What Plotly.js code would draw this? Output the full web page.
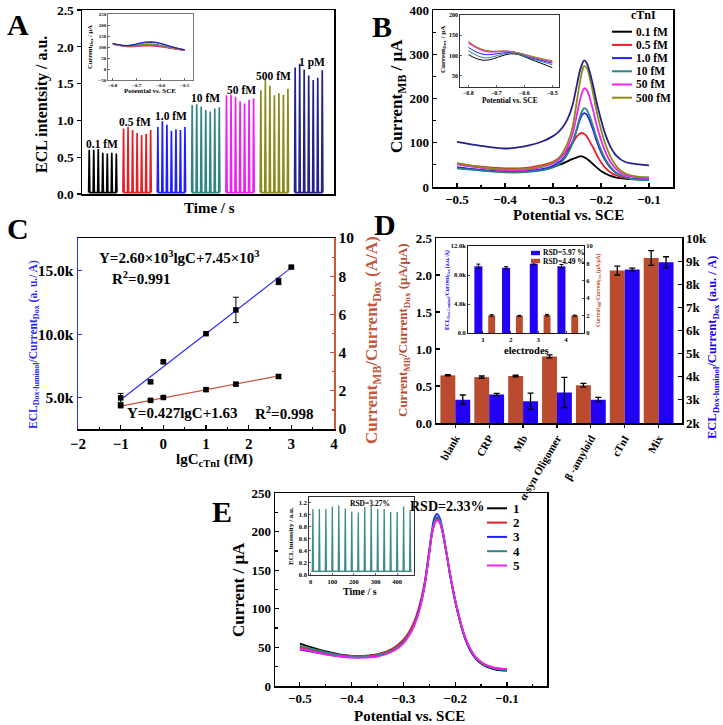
<!DOCTYPE html>
<html><head><meta charset="utf-8">
<script src="https://cdn.plot.ly/plotly-3.0.1.min.js"></script>
<style>html,body{margin:0;padding:0;background:#fff}#chart{width:723px;height:725px}</style>
</head><body><div id="chart"></div>
<script>
// ================= DATA =================
// Panel A: ECL spikes per concentration
const groupLabelsA = ['0.1 fM','0.5 fM','1.0 fM','10 fM','50 fM','500 fM','1 pM'];
const spikePeaksA = [
  [0.60,0.60,0.61,0.56,0.55,0.56,0.55],
  [0.89,0.91,0.87,0.83,0.80,0.82,0.87],
  [0.91,0.99,0.94,0.86,0.88,0.87,0.91],
  [1.21,1.22,1.19,1.14,1.12,1.16,1.18],
  [1.34,1.35,1.32,1.26,1.23,1.28,1.30],
  [1.41,1.55,1.47,1.34,1.37,1.35,1.43],
  [1.72,1.77,1.69,1.61,1.55,1.58,1.68]];
const groupStartA = [0,76,152,228,304,380,456];
const spikeStepA = 10;
const baseA = 0.02;
// Panel A inset (Current_Dox vs potential)
const potAi = [-0.8,-0.77,-0.74,-0.71,-0.68,-0.65,-0.62,-0.59,-0.56,-0.53,-0.5];
const curAi = [
  [115,108,103,104,108,110,108,102,96,90,86],
  [113,106,101,101,104,105,103,99,94,89,84],
  [116,110,107,112,120,124,122,114,104,95,88],
  [114,108,104,106,111,114,112,106,98,91,86],
  [112,106,102,103,106,108,106,101,95,89,85],
  [113,107,103,104,108,111,109,103,96,90,86],
  [115,109,106,110,117,121,119,112,102,94,87]];
// Panel B: DPV of MB
const namesB = ['0.1 fM','0.5 fM','1.0 fM','10 fM','50 fM','500 fM','1 pM'];
const potB = [-0.5,-0.45,-0.4,-0.35,-0.32,-0.3,-0.29,-0.28,-0.27,-0.26,-0.25,-0.245,-0.24,-0.235,-0.23,-0.225,-0.22,-0.215,-0.21,-0.2,-0.19,-0.18,-0.17,-0.16,-0.15,-0.14,-0.12,-0.1];
const curB = [
  [43,38,35,36,40,45,49,53,58,63,67,69,69,67,64,60,55,50,45,36,30,25,22,20,19,18,17,17],
  [53,46,42,44,50,57,63,71,83,98,115,120,122,120,115,106,96,86,75,56,42,33,27,23,21,19,18,18],
  [45,38,34,36,41,48,54,63,77,99,131,149,162,167,164,154,140,124,107,79,58,43,33,27,22,19,18,17],
  [42,37,33,34,38,44,50,59,74,97,134,154,170,178,175,164,149,132,114,84,61,45,34,27,22,19,17,16],
  [51,43,38,40,46,53,60,71,89,117,165,191,212,223,220,207,188,167,144,106,77,56,42,33,27,24,21,20],
  [54,45,40,42,48,56,64,77,98,132,196,230,258,273,270,254,230,204,176,130,94,68,50,38,31,27,23,22],
  [102,93,87,94,104,115,123,135,153,182,232,258,276,286,281,266,245,222,196,152,116,90,73,63,57,54,51,49]];
// Panel B inset
const potBi = [-0.8,-0.77,-0.74,-0.71,-0.68,-0.65,-0.62,-0.59,-0.56,-0.53,-0.5];
const curBi = [
  [102,92,88,92,99,104,102,94,86,78,70],
  [133,120,112,110,111,110,106,100,94,89,84],
  [120,108,102,103,106,107,104,97,91,86,81],
  [112,100,94,97,103,106,103,96,89,83,77],
  [130,118,110,108,110,110,106,100,94,89,85],
  [135,121,113,110,110,109,106,101,96,91,87]];
// Panel C: calibration
const lgC = [-1,-0.3,0,1,1.7,2.7,3];
const eclRatio = [5000,6260,7840,10050,11920,14160,15290];
const eclErr = [350,100,100,80,1000,250,80];
const lgCmb = [-1,-0.3,0,1,1.7,2.7];
const mbRatio = [1.22,1.50,1.65,2.06,2.35,2.75];
const mbErr = [0.06,0.04,0.04,0.08,0.08,0.10];
const fitEclX = [-1,3], fitEclY = [4850,15250];
const fitMbX = [-1,2.7], fitMbY = [1.20,2.78];
// Panel D: selectivity
const catsD = ['blank','CRP','Mb','α-syn Oligomer','β -amyloid','cTnI','Mix'];
const mbD = [0.644,0.62,0.635,0.90,0.51,2.06,2.23];
const mbDErr = [0.008,0.015,0.01,0.02,0.025,0.06,0.10];
const eclD = [3010,3230,2940,3320,3010,8640,8950];
const eclDErr = [200,50,350,650,100,60,240];
// Panel D inset: reproducibility
const electrodes = [1,2,3,4];
const eclElec = [9200,9000,9550,9200];
const eclElecErr = [300,150,120,250];
const mbElec = [2.02,1.98,2.05,2.0];
const mbElecErr = [0.08,0.05,0.09,0.06];
const rsdLabelsD = ['RSD=5.97 %','RSD=4.49 %'];
// Panel E: stability DPV
const namesE = ['1','2','3','4','5'];
const potE = [-0.5,-0.45,-0.4,-0.35,-0.32,-0.3,-0.29,-0.28,-0.27,-0.26,-0.25,-0.245,-0.24,-0.235,-0.23,-0.225,-0.22,-0.215,-0.21,-0.2,-0.19,-0.18,-0.17,-0.16,-0.15,-0.14,-0.12,-0.1];
const curE = [
  [55,45,39,41,48,58,66,78,97,126,172,196,211,218,214,202,184,165,144,110,82,60,45,35,29,25,21,20],
  [50,43,39,41,49,60,69,82,102,131,175,197,210,215,212,201,184,166,146,112,84,62,47,37,31,27,23,22],
  [47,41,37,39,46,57,66,78,98,128,176,201,218,223,218,205,186,166,145,110,82,60,45,36,30,26,22,21],
  [52,44,38,40,47,57,66,78,97,127,173,198,213,219,215,203,185,166,145,111,83,61,46,36,30,26,22,21],
  [48,41,37,38,45,55,64,77,96,126,172,196,210,215,212,201,184,166,146,112,84,62,47,37,31,27,23,22]];
// Panel E inset: ECL stability
const timesEi = [10,40,70,100,130,160,190,220,250,280,310,340,370,400,430,460];
const peaksEi = [1.09,1.09,1.09,1.13,1.15,1.10,1.05,1.03,1.12,1.14,1.09,1.09,1.04,1.04,1.13,1.07];
const baseSpanEi = [0,470];
const baseEi = 0.05;

// ================= STYLE / HELPERS =================
const W=723,H=725;
const F='Liberation Serif, Times New Roman, serif';
const colsA=['#000000','#e41f26','#2020ff','#2e8583','#f020f0','#8b8b1c','#22228a'];
const colsB=['#000000','#e41f26','#2020ff','#2e8583','#f020f0','#8b8b1c','#22228a'];
const colsE=['#000000','#e41f26','#2020ff','#2e8583','#f020f0'];
const BROWN='#bb4b2f', BLUEBAR='#2200f5', CBLUE='#2a2aff', CBROWN='#c5583c';
const px=x=>x/W, py=y=>1-y/H;
const domX=(a,b)=>[a/W,b/W], domY=(t,b)=>[1-b/H,1-t/H];
function tf(size,color){return {family:F,size:size,color:color||'#000',weight:'bold'};}
function ax(o){return Object.assign({showline:true,linecolor:'#000',linewidth:1.5,mirror:true,ticks:'inside',ticklen:4,tickwidth:1.2,tickcolor:'#000',showgrid:false,zeroline:false,tickfont:tf(13),fixedrange:true,layer:'above traces'},o);}
function txt(text,x,y,size,o){return Object.assign({text:text,x:px(x),y:py(y),xref:'paper',yref:'paper',showarrow:false,xanchor:'center',yanchor:'middle',font:tf(size)},o||{});}
function spikes(times,peaks,base,hw){const xs=[],ys=[];times.forEach((t,i)=>{xs.push(t-hw,t,t+hw);ys.push(base,peaks[i],base);});return {xs,ys};}

const traces=[], ann=[], shapes=[];

// ---- Panel A
groupStartA.forEach((g,gi)=>{
  const times=spikePeaksA[gi].map((_,i)=>g+i*spikeStepA);
  const s=spikes(times,spikePeaksA[gi],baseA,1.3);
  traces.push({x:s.xs,y:s.ys,xaxis:'x',yaxis:'y',mode:'lines',line:{color:colsA[gi],width:1.7},hoverinfo:'skip'});
});
const labPosA=[[102,144],[135,122],[171,116],[205,98],[241,90],[273,76],[312,63]];
groupLabelsA.forEach((l,i)=>ann.push(txt(l,labPosA[i][0],labPosA[i][1],11.5)));
curAi.forEach((c,i)=>traces.push({x:potAi,y:c,xaxis:'x2',yaxis:'y2',mode:'lines',line:{color:colsA[i],width:1,shape:'spline'},hoverinfo:'skip'}));

// ---- Panel B
curB.forEach((c,i)=>traces.push({x:potB,y:c,xaxis:'x3',yaxis:'y3',mode:'lines',line:{color:colsB[i],width:1.8,shape:'spline'},hoverinfo:'skip'}));
curBi.forEach((c,i)=>traces.push({x:potBi,y:c,xaxis:'x4',yaxis:'y4',mode:'lines',line:{color:colsB[i],width:1,shape:'spline'},hoverinfo:'skip'}));
namesB.slice(0,6).forEach((n,i)=>{const y=31.7+i*13.2;
  shapes.push({type:'line',xref:'paper',yref:'paper',x0:px(612),x1:px(632),y0:py(y),y1:py(y),line:{color:colsB[i],width:2}});
  ann.push(txt(n,634,y,11.5,{xanchor:'left'}));});

// ---- Panel C
traces.push({x:fitEclX,y:fitEclY,xaxis:'x5',yaxis:'y5',mode:'lines',line:{color:CBLUE,width:1.2},hoverinfo:'skip'});
traces.push({x:fitMbX,y:fitMbY,xaxis:'x5',yaxis:'y6',mode:'lines',line:{color:CBROWN,width:1.2},hoverinfo:'skip'});
traces.push({x:lgC,y:eclRatio,xaxis:'x5',yaxis:'y5',mode:'markers',marker:{symbol:'square',size:5.5,color:'#000'},error_y:{type:'data',array:eclErr,color:'#000',thickness:1,width:3},hoverinfo:'skip'});
traces.push({x:lgCmb,y:mbRatio,xaxis:'x5',yaxis:'y6',mode:'markers',marker:{symbol:'square',size:5.5,color:'#000'},error_y:{type:'data',array:mbErr,color:'#000',thickness:1,width:3},hoverinfo:'skip'});

// ---- Panel D
const idxD=catsD.map((_,i)=>i);
traces.push({type:'bar',x:idxD,y:mbD,xaxis:'x6',yaxis:'y7',width:0.44,offset:-0.44,marker:{color:BROWN,line:{width:0}},error_y:{type:'data',array:mbDErr,color:'#000',thickness:1.3,width:3},hoverinfo:'skip'});
traces.push({type:'bar',x:idxD,y:eclD,xaxis:'x6',yaxis:'y8',width:0.44,offset:0,marker:{color:BLUEBAR,line:{width:0}},error_y:{type:'data',array:eclDErr,color:'#000',thickness:1.3,width:3},hoverinfo:'skip'});
traces.push({type:'bar',x:electrodes,y:eclElec,xaxis:'x7',yaxis:'y9',width:0.29,offset:-0.31,marker:{color:BLUEBAR,line:{width:0}},error_y:{type:'data',array:eclElecErr,color:'#000',thickness:1,width:2},hoverinfo:'skip'});
traces.push({type:'bar',x:electrodes,y:mbElec,xaxis:'x7',yaxis:'y10',width:0.25,offset:0.19,marker:{color:BROWN,line:{width:0}},error_y:{type:'data',array:mbElecErr,color:'#000',thickness:1,width:2},hoverinfo:'skip'});
[BLUEBAR,BROWN].forEach((c,i)=>{const y=253+i*8;
  shapes.push({type:'rect',xref:'paper',yref:'paper',x0:px(531),x1:px(540),y0:py(y+2.2),y1:py(y-2.2),fillcolor:c,line:{width:0}});
  ann.push(txt(rsdLabelsD[i],541,y,7.5,{xanchor:'left'}));});

// ---- Panel E
curE.forEach((c,i)=>traces.push({x:potE,y:c,xaxis:'x8',yaxis:'y11',mode:'lines',line:{color:colsE[i],width:1.8,shape:'spline'},hoverinfo:'skip'}));
traces.push({x:baseSpanEi,y:[baseEi,baseEi],xaxis:'x9',yaxis:'y12',mode:'lines',line:{color:'#3a8c88',width:1},hoverinfo:'skip'});
const sE=spikes(timesEi,peaksEi,baseEi,2.5);
traces.push({x:sE.xs,y:sE.ys,xaxis:'x9',yaxis:'y12',mode:'lines',line:{color:'#3a8c88',width:1.3},hoverinfo:'skip'});
namesE.forEach((n,i)=>{const y=508.3+i*14.3;
  shapes.push({type:'line',xref:'paper',yref:'paper',x0:px(487),x1:px(507),y0:py(y),y1:py(y),line:{color:colsE[i],width:2}});
  ann.push(txt(n,511,y,13,{xanchor:'left'}));});

// ---- Text
ann.push(
  txt('A',18,24,30), txt('B',382,27,30), txt('C',18,228,30), txt('D',385,224,30), txt('E',222,512,30),
  txt('ECL intentsity / a.u.',42,105,16,{textangle:-90}),
  txt('Time / s',209,208,15),
  txt('Current<sub>Dox</sub> / μA',90,47,6.5,{textangle:-90}),
  txt('Potential vs. SCE',150,90.5,7),
  txt('Current<sub>MB</sub> / μA',398,96,17,{textangle:-90}),
  txt('Potential vs. SCE',568,214.5,15),
  txt('cTnI',643,15,12),
  txt('Current<sub>Dox</sub> / μA',443,50,7,{textangle:-90}),
  txt('Potential vs. SCE',510,100,7.5),
  txt('Y=2.60×10<sup>3</sup>lgC+7.45×10<sup>3</sup>',97,257,15,{xanchor:'left'}),
  txt('R<sup>2</sup>=0.991',110,278,15,{xanchor:'left'}),
  txt('Y=0.427lgC+1.63',125,413,15,{xanchor:'left'}),
  txt('R<sup>2</sup>=0.998',253,413,15,{xanchor:'left'}),
  txt('ECL<sub>Dox-luminol</sub>/Current<sub>Dox</sub> (a. u./ A)',34,345,11.5,{textangle:-90,font:tf(11.5,CBLUE)}),
  txt('Current<sub>MB</sub>/Current<sub>Dox</sub> (A/A)',373,340,17,{textangle:-90,font:tf(17,CBROWN)}),
  txt('lgC<sub>cTnI</sub> (fM)',214,460,15),
  txt('Current<sub>MB</sub>/Current<sub>Dox</sub> (μA/μA)',403,330,13,{textangle:-90,font:tf(13,BROWN)}),
  txt('ECL<sub>Dox-luminol</sub>/Current<sub>Dox</sub> (a.u. / A)',713,348,12.5,{textangle:-90,font:tf(12.5,BLUEBAR)}),
  txt('ECL<sub>Dox-Luminol</sub>/Current<sub>Dox</sub> (a.u./A)',447,290,5.5,{textangle:-90,font:tf(5.5,BLUEBAR)}),
  txt('Current<sub>MB</sub>/Current<sub>Dox</sub> (μA/μA)',598,290,5.5,{textangle:-90,font:tf(5.5,BROWN)}),
  txt('electrodes',526,350,10.5),
  txt('RSD=2.33%',447,506,14),
  txt('Current / μA',238,590,17,{textangle:-90}),
  txt('Potential vs. SCE',409,716,15),
  txt('RSD=3.27%',370,503,7.5),
  txt('ECL intensity / a.u.',291,536,7,{textangle:-90}),
  txt('Time / s',360,591,10)
);

// ================= LAYOUT =================
const layout={width:W,height:H,margin:{l:0,r:0,t:0,b:0},paper_bgcolor:'#fff',plot_bgcolor:'rgba(0,0,0,0)',showlegend:false,barmode:'overlay',font:{family:F},
  // A
  xaxis:ax({domain:domX(82,334),range:[-16,542],anchor:'y',showticklabels:false,ticks:''}),
  yaxis:ax({domain:domY(10,194),range:[0,2.5],anchor:'x',dtick:0.5,tickformat:'.1f',ticks:'outside',tickfont:tf(13.5)}),
  xaxis2:ax({domain:domX(108,193),range:[-0.82,-0.465],anchor:'y2',tickvals:[-0.8,-0.7,-0.6,-0.5],tickformat:'.1f',tickfont:tf(5),ticklen:2,linewidth:0.8,linecolor:'#555',tickwidth:0.6}),
  yaxis2:ax({domain:domY(14,80),range:[-50,250],anchor:'x2',dtick:50,tickfont:tf(5),ticklen:2,linewidth:0.8,linecolor:'#555',tickwidth:0.6}),
  // B
  xaxis3:ax({domain:domX(433,673),range:[-0.55,-0.05],anchor:'y3',tick0:-0.5,dtick:0.1,tickformat:'.1f',minor:{ticks:'inside',ticklen:2.5,dtick:0.05,tick0:-0.5,tickcolor:'#000'}}),
  yaxis3:ax({domain:domY(10,187),range:[0,400],anchor:'x3',dtick:100,minor:{ticks:'inside',ticklen:2.5,dtick:50,tickcolor:'#000'}}),
  xaxis4:ax({domain:domX(460,559),range:[-0.83,-0.476],anchor:'y4',tickvals:[-0.8,-0.7,-0.6,-0.5],tickformat:'.1f',tickfont:tf(6),ticklen:2,linewidth:0.8,tickwidth:0.6}),
  yaxis4:ax({domain:domY(15,87),range:[22,200],anchor:'x4',tickvals:[50,100,150,200],tickfont:tf(6),ticklen:2,linewidth:0.8,tickwidth:0.6}),
  // C
  xaxis5:ax({domain:domX(78,334),range:[-2,4],anchor:'y5',dtick:1,tickfont:tf(15),minor:{ticks:'inside',ticklen:2.5,dtick:0.5,tickcolor:'#000'}}),
  yaxis5:ax({domain:domY(238,429),range:[2550,17580],anchor:'x5',mirror:false,linecolor:CBLUE,tickcolor:CBLUE,tickvals:[5000,10000,15000],ticktext:['5.0k','10.0k','15.0k'],tickfont:tf(15.5)}),
  yaxis6:ax({domain:domY(238,429),range:[0,10],anchor:'x5',overlaying:'y5',side:'right',mirror:false,linecolor:CBROWN,tickcolor:CBROWN,dtick:2,tickfont:tf(15.5),minor:{ticks:'inside',ticklen:2.5,dtick:1,tickcolor:CBROWN}}),
  // D
  xaxis6:ax({domain:domX(436,682),range:[-0.57,6.69],anchor:'y7',tickvals:idxD,ticktext:catsD,tickangle:-60,ticks:'outside',ticklen:3,tickfont:tf(11)}),
  yaxis7:ax({domain:domY(238,423),range:[0,2.5],anchor:'x6',mirror:false,dtick:0.5,tickformat:'.1f',tickfont:tf(13)}),
  yaxis8:ax({domain:domY(238,423),range:[2000,10000],anchor:'x6',overlaying:'y7',side:'right',mirror:false,tickvals:[2000,3000,4000,5000,6000,7000,8000,9000,10000],ticktext:['2k','3k','4k','5k','6k','7k','8k','9k','10k'],tickfont:tf(13)}),
  xaxis7:ax({domain:domX(468,584),range:[0.46,4.65],anchor:'y9',tickvals:electrodes,ticks:'inside',ticklen:2,tickfont:tf(7),linewidth:0.9,tickwidth:0.7}),
  yaxis9:ax({domain:domY(246,333),range:[0,12000],anchor:'x7',mirror:false,tickvals:[0,4000,8000,12000],ticktext:['0.0','4.0k','8.0k','12.0k'],ticklen:2,tickfont:tf(6.5),linewidth:0.9,tickwidth:0.7}),
  yaxis10:ax({domain:domY(246,333),range:[0,10],anchor:'x7',overlaying:'y9',side:'right',mirror:false,dtick:2,ticklen:2,tickfont:tf(6.5),linewidth:0.9,tickwidth:0.7}),
  // E
  xaxis8:ax({domain:domX(275,547),range:[-0.548,-0.0226],anchor:'y11',tick0:-0.5,dtick:0.1,tickformat:'.1f',minor:{ticks:'inside',ticklen:2.5,dtick:0.05,tick0:-0.5,tickcolor:'#000'}}),
  yaxis11:ax({domain:domY(493,686),range:[0,250],anchor:'x8',dtick:50,minor:{ticks:'inside',ticklen:2.5,dtick:25,tickcolor:'#000'}}),
  xaxis9:ax({domain:domX(309,414),range:[-8,478],anchor:'y12',dtick:100,tickfont:tf(6.5),ticklen:2,linewidth:0.8,tickwidth:0.6}),
  yaxis12:ax({domain:domY(497,575),range:[-0.01,1.29],anchor:'x9',dtick:0.2,tickformat:'.1f',tickfont:tf(6.5),ticklen:2,linewidth:0.8,tickwidth:0.6}),
  annotations:ann, shapes:shapes
};
Plotly.newPlot('chart',traces,layout,{staticPlot:true,displayModeBar:false});
</script></body></html>
